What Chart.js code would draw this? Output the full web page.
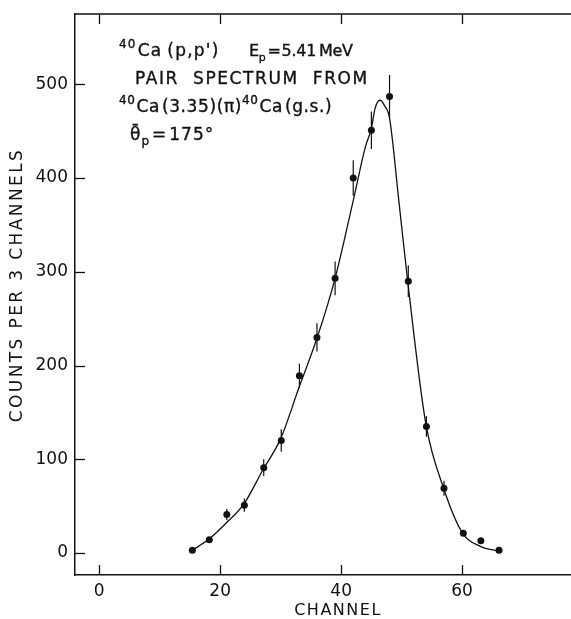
<!DOCTYPE html>
<html>
<head>
<meta charset="utf-8">
<script src="https://cdn.jsdelivr.net/npm/chart.js@4/dist/chart.umd.min.js"></script>
<style>
  html, body { margin: 0; padding: 0; background: #fff; overflow: hidden; }
  #wrap { width: 571px; height: 619px; position: relative; }
  canvas { display: block; }
</style>
</head>
<body>
<div id="wrap"><canvas id="spectrum"></canvas></div>
<script>
// Measured points (3-channel bins) with error bars
const channels = [15.4, 18.2, 21.1, 24, 27.2, 30.1, 33.1, 36, 39, 42, 45, 48, 51.1, 54.1, 57, 60.2, 63.1, 66.1];
const counts = [3, 14, 41, 51, 91, 120, 189, 230, 293, 400, 451, 487, 290, 135, 69, 21, 13, 3];
const errors = [3, 3, 6, 7, 9, 12, 13, 15, 18, 19, 20, 23, 17, 11, 8, 3, 3, 3];

// Fitted curve
const fitChannels = [15.4, 18, 21, 24, 27, 30, 33, 36, 39, 42, 44, 45, 45.6, 46.4, 47.2, 48, 49.5, 51, 54, 57, 60, 63, 66.1];
const fitCounts = [3, 14, 32, 53, 88, 122, 176, 229, 293, 376, 433, 453, 474, 483, 477, 464, 378, 290, 138, 68, 22, 7, 2];

// Axis ticks
const xTicks = [0, 20, 40, 60];
const yTicks = [0, 100, 200, 300, 400, 500];

const FONT = '"DejaVu Sans", sans-serif';
const INK = "#111";
const TICK_LEN = 10;

// text with superscripts / subscripts; a number entry is a gap in px
function drawRich(ctx, x, y, parts, size) {
  let cx = x;
  for (const part of parts) {
    if (typeof part === "number") { cx += part; continue; }
    const [txt, kind] = part;
    const s = kind ? Math.round(size * 0.7) : size;
    ctx.font = `${s}px ${FONT}`;
    const dy = kind === "sup" ? -size * 0.45 : kind === "sub" ? size * 0.32 : 0;
    ctx.fillText(txt, cx, y + dy);
    ctx.strokeText(txt, cx, y + dy);
    cx += ctx.measureText(txt).width;
  }
  return cx;
}

const framePlugin = {
  id: "frame",
  afterDatasetsDraw(chart) {
    const { ctx, chartArea, scales } = chart;
    const x = scales.x, y = scales.y;
    ctx.save();
    ctx.strokeStyle = INK;

    // error bars
    ctx.lineWidth = 1.2;
    channels.forEach((c, i) => {
      const px = x.getPixelForValue(c);
      ctx.beginPath();
      ctx.moveTo(px, y.getPixelForValue(counts[i] - errors[i]));
      ctx.lineTo(px, y.getPixelForValue(counts[i] + errors[i]));
      ctx.stroke();
    });

    // top frame line
    ctx.lineWidth = 1.5;
    ctx.beginPath();
    ctx.moveTo(chartArea.left, chartArea.top);
    ctx.lineTo(chartArea.right, chartArea.top);
    ctx.stroke();

    // inward ticks
    ctx.lineWidth = 1.3;
    xTicks.forEach((v) => {
      const px = Math.round(x.getPixelForValue(v)) + 0.5;
      ctx.beginPath();
      ctx.moveTo(px, chartArea.bottom);
      ctx.lineTo(px, chartArea.bottom - TICK_LEN);
      ctx.moveTo(px, chartArea.top);
      ctx.lineTo(px, chartArea.top + TICK_LEN);
      ctx.stroke();
    });
    yTicks.forEach((v) => {
      const py = Math.round(y.getPixelForValue(v)) + 0.5;
      ctx.beginPath();
      ctx.moveTo(chartArea.left, py);
      ctx.lineTo(chartArea.left + TICK_LEN, py);
      ctx.stroke();
    });
    ctx.restore();
  },
  afterDraw(chart) {
    const { ctx } = chart;
    ctx.save();
    ctx.fillStyle = INK;
    ctx.strokeStyle = INK;
    ctx.lineWidth = 0.35;
    ctx.textBaseline = "alphabetic";
    ctx.textAlign = "left";

    // annotation block
    ctx.letterSpacing = "1.2px";
    drawRich(ctx, 119, 56, [["40", "sup"], 1, ["Ca", ""], 5, ["(p,p')", ""]], 17);
    ctx.letterSpacing = "-0.3px";
    drawRich(ctx, 249, 56, [["E", ""], ["p", "sub"], 2, ["=", ""], 1, ["5.41", ""], 3, ["MeV", ""]], 16);
    ctx.letterSpacing = "1.6px";
    drawRich(ctx, 135, 84, [["PAIR  SPECTRUM  FROM", ""]], 17);
    ctx.letterSpacing = "0.6px";
    drawRich(ctx, 119, 112, [["40", "sup"], 1, ["Ca", ""], 2, ["(3.35)(π)", ""], ["40", "sup"], 1, ["Ca", ""], 2, ["(g.s.)", ""]], 17);
    ctx.letterSpacing = "1px";
    drawRich(ctx, 130, 140, [["θ\u0304", ""], ["p", "sub"], 2, ["=", ""], 2, ["175°", ""]], 17);

    // axis titles
    ctx.font = `16px ${FONT}`;
    ctx.letterSpacing = "1.5px";
    ctx.textAlign = "center";
    ctx.textBaseline = "middle";
    ctx.fillText("CHANNEL", 338, 611);
    ctx.translate(18, 285);
    ctx.rotate(-Math.PI / 2);
    ctx.font = `17px ${FONT}`;
    ctx.letterSpacing = "2.4px";
    ctx.fillText("COUNTS PER 3 CHANNELS", 0, 0);
    ctx.restore();
  },
};

const tickFont = { family: FONT, size: 17 };

new Chart(document.getElementById("spectrum").getContext("2d"), {
  type: "scatter",
  data: {
    datasets: [
      {
        type: "line",
        data: fitChannels.map((c, i) => ({ x: c, y: fitCounts[i] })),
        borderColor: INK,
        borderWidth: 1.3,
        pointRadius: 0,
        cubicInterpolationMode: "monotone",
        fill: false,
        order: 2,
      },
      {
        data: channels.map((c, i) => ({ x: c, y: counts[i] })),
        pointRadius: 3.5,
        pointBackgroundColor: INK,
        pointBorderWidth: 0,
        order: 1,
      },
    ],
  },
  options: {
    responsive: true,
    maintainAspectRatio: false,
    devicePixelRatio: 1,
    animation: false,
    layout: { autoPadding: false, padding: { top: 14, right: 0, left: 0, bottom: 0 } },
    plugins: { legend: { display: false }, tooltip: { enabled: false } },
    scales: {
      x: {
        type: "linear",
        min: -4,
        max: 78,
        afterFit: (s) => { s.height = 44; s.paddingLeft = 0; s.paddingRight = 0; },
        afterBuildTicks: (s) => { s.ticks = xTicks.map((v) => ({ value: v })); },
        grid: { display: false, drawTicks: false },
        border: { display: true, color: INK, width: 1.5 },
        ticks: { color: INK, font: tickFont, padding: 6, maxRotation: 0 },
      },
      y: {
        min: -23.5,
        max: 575,
        afterFit: (s) => { s.width = 75; s.paddingTop = 0; s.paddingBottom = 0; },
        afterBuildTicks: (s) => { s.ticks = yTicks.map((v) => ({ value: v })); },
        grid: { display: false, drawTicks: false },
        border: { display: true, color: INK, width: 1.5 },
        ticks: { color: INK, font: tickFont, padding: 7 },
      },
    },
  },
  plugins: [framePlugin],
});
</script>
</body>
</html>
